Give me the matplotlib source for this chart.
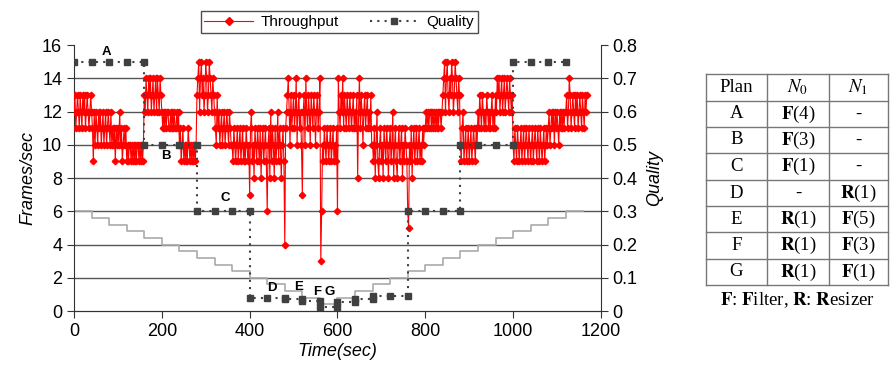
import numpy as np
import matplotlib
matplotlib.use("Agg")
import matplotlib.pyplot as plt
from matplotlib.lines import Line2D
from matplotlib.ticker import FuncFormatter

plt.rcParams['font.family'] = ['Liberation Sans', 'DejaVu Sans']
plt.rcParams['mathtext.fontset'] = 'stix'

# --- data ---
# throughput sampled every 2 s, one block of 20 samples per 40 s
thr_step = 2
thr_blocks = [
    [12, 13, 11, 12, 13, 12, 11, 13, 12, 11, 13, 12, 13, 11, 12, 13, 12, 11, 12, 13],
    [12, 11, 9, 12, 10, 12, 11, 10, 12, 11, 12, 10, 11, 12, 10, 11, 12, 10, 11, 12],
    [11, 10, 12, 10, 11, 10, 11, 9, 11, 10, 11, 10, 12, 10, 11, 9, 10, 11, 10, 11],
    [9, 10, 9, 10, 10, 9, 10, 9, 10, 9, 10, 9, 10, 10, 9, 10, 9, 10, 9, 10],
    [13, 12, 14, 13, 12, 14, 13, 14, 12, 13, 14, 12, 13, 14, 12, 14, 13, 12, 14, 13],
    [12, 11, 12, 11, 12, 11, 12, 12, 11, 11, 12, 11, 12, 11, 12, 11, 11, 12, 11, 12],
    [10, 11, 9, 10, 11, 9, 10, 9, 10, 9, 11, 10, 9, 10, 9, 10, 9, 10, 9, 10],
    [13, 14, 15, 12, 14, 15, 13, 14, 12, 13, 15, 14, 12, 13, 15, 14, 13, 12, 14, 13],
    [12, 11, 10, 13, 11, 12, 10, 11, 12, 10, 11, 12, 10, 11, 12, 11, 10, 12, 11, 10],
    [10, 9, 11, 10, 9, 10, 11, 9, 10, 11, 9, 10, 11, 9, 10, 9, 11, 10, 9, 10],
    [7, 11, 12, 9, 10, 8, 11, 10, 9, 11, 10, 9, 11, 8, 10, 11, 9, 10, 11, 9],
    [6, 10, 11, 8, 12, 9, 11, 10, 8, 11, 9, 10, 12, 9, 11, 10, 8, 10, 11, 9],
    [4, 11, 12, 13, 14, 12, 10, 13, 11, 12, 13, 11, 12, 14, 10, 12, 13, 11, 12, 10],
    [7, 12, 13, 10, 14, 12, 11, 13, 12, 10, 13, 12, 11, 13, 12, 10, 12, 13, 11, 12],
    [14, 3, 6, 10, 9, 11, 10, 9, 11, 10, 9, 10, 11, 9, 10, 11, 9, 10, 9, 11],
    [6, 14, 12, 11, 13, 12, 14, 11, 13, 12, 11, 13, 12, 11, 13, 12, 11, 12, 13, 11],
    [12, 11, 13, 8, 12, 14, 11, 13, 12, 10, 12, 13, 11, 12, 13, 11, 12, 11, 13, 10],
    [10, 9, 11, 8, 10, 12, 9, 8, 10, 11, 9, 10, 8, 11, 10, 9, 11, 10, 8, 10],
    [11, 9, 10, 12, 8, 10, 11, 9, 8, 10, 11, 9, 10, 11, 8, 10, 9, 11, 10, 9],
    [6, 5, 10, 9, 11, 8, 10, 11, 9, 10, 11, 9, 10, 11, 9, 10, 9, 11, 10, 11],
    [11, 12, 11, 12, 11, 12, 12, 11, 12, 11, 12, 11, 12, 11, 12, 11, 12, 12, 11, 12],
    [13, 14, 15, 12, 14, 15, 13, 12, 14, 13, 15, 14, 12, 13, 15, 14, 13, 12, 14, 13],
    [10, 9, 11, 12, 9, 10, 11, 9, 10, 11, 9, 10, 11, 9, 10, 11, 10, 9, 11, 10],
    [12, 11, 13, 12, 11, 13, 12, 11, 12, 11, 13, 12, 11, 12, 11, 12, 13, 11, 12, 11],
    [13, 12, 14, 13, 14, 12, 13, 14, 12, 13, 14, 12, 13, 14, 13, 12, 14, 13, 12, 13],
    [10, 9, 11, 10, 9, 11, 10, 9, 10, 11, 9, 10, 11, 9, 10, 11, 10, 9, 11, 10],
    [9, 10, 11, 9, 10, 11, 10, 9, 11, 10, 9, 11, 10, 9, 10, 11, 9, 10, 11, 10],
    [11, 12, 10, 11, 12, 11, 12, 10, 12, 11, 12, 11, 10, 12, 11, 12, 11, 12, 11, 12],
    [12, 13, 11, 12, 14, 13, 11, 12, 13, 12, 11, 13, 12, 13, 11, 12, 13, 12, 11, 13,
     12, 11, 13, 12, 13],
]

qual_t = [0, 40, 80, 120, 160,
          160, 200, 240, 280,
          280, 320, 360, 400,
          400, 440, 480,
          480, 520,
          520, 560,
          560, 600,
          600, 640,
          640, 680,
          680, 720, 760,
          760, 800, 840, 880,
          880, 920, 960, 1000,
          1000, 1040, 1080, 1120]
qual_v = [0.75, 0.75, 0.75, 0.75, 0.75,
          0.5, 0.5, 0.5, 0.5,
          0.3, 0.3, 0.3, 0.3,
          0.04, 0.04, 0.04,
          0.037, 0.037,
          0.03, 0.03,
          0.013, 0.013,
          0.028, 0.028,
          0.036, 0.036,
          0.044, 0.044, 0.044,
          0.3, 0.3, 0.3, 0.3,
          0.5, 0.5, 0.5, 0.5,
          0.75, 0.75, 0.75, 0.75]

# light grey staircase (frames/sec scale)
bw_t = [0, 40, 80, 120, 160, 200, 240, 280, 320, 360, 400, 440, 480, 520, 560,
        600, 640, 680, 720, 760, 800, 840, 880, 920, 960, 1000, 1040, 1080, 1120, 1160]
bw_v = [6.0, 5.6, 5.2, 4.8, 4.4, 4.0, 3.6, 3.2, 2.8, 2.4, 2.0, 1.6, 1.2, 0.8, 0.4,
        0.8, 1.2, 1.6, 2.0, 2.4, 2.8, 3.2, 3.6, 4.0, 4.4, 4.8, 5.2, 5.6, 6.0, 6.0]

plan_labels = ['A', 'B', 'C', 'D', 'E', 'F', 'G']
plan_lx = [74, 210, 344, 451, 511, 553, 583]
plan_ly = [15.6, 9.3, 6.8, 1.4, 1.45, 1.15, 1.15]

table_n0 = [r'$\mathbf{F}$(4)', r'$\mathbf{F}$(3)', r'$\mathbf{F}$(1)', '-',
            r'$\mathbf{R}$(1)', r'$\mathbf{R}$(1)', r'$\mathbf{R}$(1)']
table_n1 = ['-', '-', '-', r'$\mathbf{R}$(1)', r'$\mathbf{F}$(5)',
            r'$\mathbf{F}$(3)', r'$\mathbf{F}$(1)']

thr_v = np.concatenate([np.array(b, dtype=float) for b in thr_blocks])
thr_t = np.arange(len(thr_v)) * thr_step

fig = plt.figure(figsize=(8.93, 3.73), dpi=100)
ax = fig.add_axes([0.0829, 0.166, 0.590, 0.713])
ax2 = ax.twinx()

# grid lines
for gy in [2, 4, 6, 8, 10, 12, 14]:
    ax.axhline(gy, color='#555555', lw=1.0, zorder=0)

ax.step(bw_t, bw_v, where='post', color='#aaaaaa', lw=1.2, zorder=1)
ax.plot(thr_t, thr_v, color='#ff0000', lw=0.8, marker='D', ms=3.3,
        mec='#ff0000', mfc='#ff0000', zorder=3)
ax2.plot(qual_t, qual_v, color='#404040', lw=1.5, ls=(0, (1, 2.5)),
         marker='s', ms=5, mfc='#404040', mec='#404040', zorder=4)

for lab, lx, ly in zip(plan_labels, plan_lx, plan_ly):
    ax.text(lx, ly, lab, fontsize=9.5, fontweight='bold', ha='center', va='center')

ax.set_xlim(0, 1200)
ax.set_ylim(0, 16)
ax2.set_ylim(0, 0.8)
ax.set_xticks(range(0, 1201, 200))
ax.set_yticks(range(0, 17, 2))
ax2.set_yticks([0, 0.1, 0.2, 0.3, 0.4, 0.5, 0.6, 0.7, 0.8])
ax2.yaxis.set_major_formatter(FuncFormatter(lambda v, p: '0' if v == 0 else f'{v:.1f}'))

for a in (ax, ax2):
    a.spines['top'].set_visible(False)
    for s in a.spines.values():
        s.set_color('#333333')
    a.tick_params(labelsize=13, length=5, color='#333333')
ax2.spines['left'].set_visible(False)
ax.spines['right'].set_visible(False)

ax.set_xlabel('Time(sec)', fontsize=13, style='italic', labelpad=2)
ax.set_ylabel('Frames/sec', fontsize=13, style='italic', labelpad=4)
ax2.set_ylabel('Quality', fontsize=13, style='italic', labelpad=6)

handles = [
    Line2D([], [], color='#ff0000', lw=0.8, marker='D', ms=4.5),
    Line2D([], [], color='#404040', lw=1.5, ls=(0, (1, 2.5)), marker='s', ms=5),
]
leg = fig.legend(handles, ['Throughput', 'Quality'], ncol=2, loc='upper left',
                 bbox_to_anchor=(0.216, 0.99), fontsize=11, frameon=True,
                 fancybox=False, handlelength=3.2, columnspacing=2.0,
                 borderpad=0.25, handletextpad=0.5)
leg.get_frame().set_edgecolor('#222222')
leg.get_frame().set_linewidth(1.0)

# table on the right, drawn in pixel coordinates
tax = fig.add_axes([0, 0, 1, 1])
tax.set_xlim(0, 893)
tax.set_ylim(373, 0)
tax.axis('off')
tax.patch.set_visible(False)

col_x = [706, 767, 829, 888]
row_y = [74, 101, 127, 153, 180, 206, 232, 259, 285]
for x in col_x:
    tax.plot([x, x], [row_y[0], row_y[-1]], color='#777777', lw=1)
for y in row_y:
    tax.plot([col_x[0], col_x[-1]], [y, y], color='#777777', lw=1)

serif = ['Liberation Serif', 'DejaVu Serif']
cx = [(col_x[i] + col_x[i + 1]) / 2 for i in range(3)]
header = ['Plan', r'$N_0$', r'$N_1$']
for i, h in enumerate(header):
    tax.text(cx[i], (row_y[0] + row_y[1]) / 2, h, family=serif, fontsize=13.5,
             ha='center', va='center')
for r in range(7):
    ym = (row_y[r + 1] + row_y[r + 2]) / 2
    tax.text(cx[0], ym, plan_labels[r], family=serif, fontsize=13.5, ha='center', va='center')
    tax.text(cx[1], ym, table_n0[r], family=serif, fontsize=13.5, ha='center', va='center')
    tax.text(cx[2], ym, table_n1[r], family=serif, fontsize=13.5, ha='center', va='center')

tax.text(797, 300, r'$\mathbf{F}$: $\mathbf{F}$ilter, $\mathbf{R}$: $\mathbf{R}$esizer',
         family=serif, fontsize=13.5, ha='center', va='center')

fig.savefig('out.png', dpi=100)
